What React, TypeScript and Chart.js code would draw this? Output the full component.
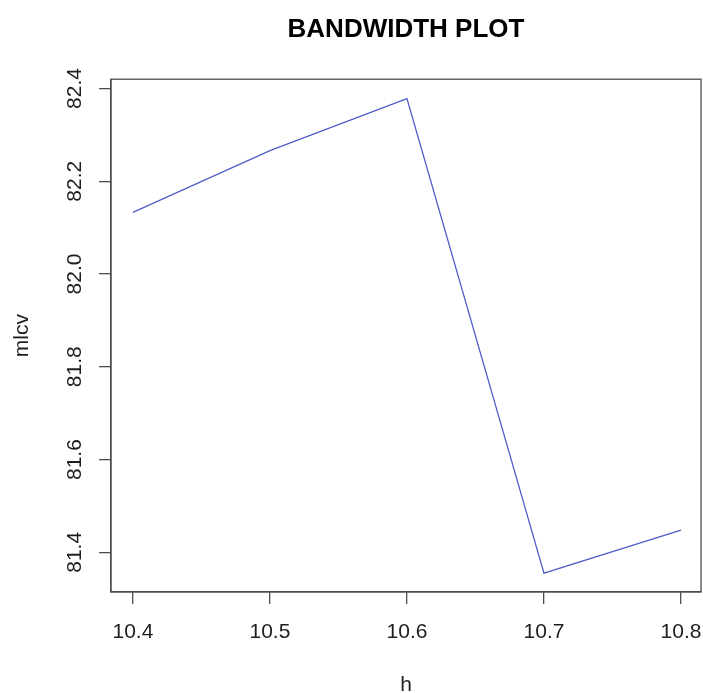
import React, { useEffect, useRef } from "react";
import { Chart, registerables } from "chart.js";

Chart.register(...registerables);

const hValues = [10.4, 10.5, 10.6, 10.7, 10.8];
const mlcvValues = [82.133, 82.266, 82.378, 81.355, 81.448];
const xTicks = [10.4, 10.5, 10.6, 10.7, 10.8];
const yTicks = [81.4, 81.6, 81.8, 82.0, 82.2, 82.4];

const W = 703;
const H = 693;
const FONT = "'Liberation Sans', Arial, sans-serif";
const AXIS_COLOR = "#4d4d4d";
const TEXT_COLOR = "#1e1e1e";

const boxPlugin = {
  id: "rBox",
  afterDraw(chart: any) {
    const { ctx, chartArea } = chart;
    ctx.save();
    ctx.strokeStyle = AXIS_COLOR;
    ctx.lineWidth = 1.3;
    ctx.strokeRect(chartArea.left, chartArea.top, chartArea.right - chartArea.left, chartArea.bottom - chartArea.top);
    ctx.restore();
  },
};

export default function App() {
  const ref = useRef<HTMLCanvasElement | null>(null);

  useEffect(() => {
    if (!ref.current) return;
    const chart = new Chart(ref.current, {
      type: "line",
      data: {
        datasets: [
          {
            label: "mlcv",
            data: hValues.map((h, i) => ({ x: h, y: mlcvValues[i] })),
            borderColor: "#4e5dc8",
            borderWidth: 1.3,
            pointRadius: 0,
            tension: 0,
            fill: false,
          },
        ],
      },
      options: {
        animation: false,
        responsive: false,
        devicePixelRatio: 1,
        layout: { padding: { left: 0, right: 2, top: 0, bottom: 0 } },
        plugins: {
          legend: { display: false },
          tooltip: { enabled: false },
          title: {
            display: true,
            fullSize: false,
            text: "BANDWIDTH PLOT",
            color: "#000",
            font: { family: FONT, size: 26, weight: "bold" },
            padding: { top: 14, bottom: 34 },
          },
        },
        scales: {
          x: {
            type: "linear",
            position: "bottom",
            min: 10.384,
            max: 10.8146,
            afterBuildTicks: (s: any) => {
              s.ticks = xTicks.map((v) => ({ value: v }));
            },
            afterFit: (s: any) => {
              s.height = 101;
              s.paddingLeft = 0;
              s.paddingRight = 0;
            },
            ticks: {
              autoSkip: false,
              maxRotation: 0,
              minRotation: 0,
              padding: 16,
              color: TEXT_COLOR,
              font: { family: FONT, size: 21 },
              callback: (v: any) => Number(v).toFixed(1),
            },
            grid: {
              display: true,
              drawOnChartArea: false,
              drawTicks: true,
              tickLength: 12,
              color: AXIS_COLOR,
              lineWidth: 1.3,
            },
            border: { display: true, color: AXIS_COLOR, width: 1.3 },
            title: {
              display: true,
              text: "h",
              color: TEXT_COLOR,
              font: { family: FONT, size: 21, lineHeight: 0.7 },
              padding: { top: 0, bottom: 0 },
            },
          },
          y: {
            type: "linear",
            position: "left",
            min: 81.3145,
            max: 82.42,
            afterBuildTicks: (s: any) => {
              s.ticks = yTicks.map((v) => ({ value: v }));
            },
            afterFit: (s: any) => {
              s.width = 111;
              s.paddingTop = 0;
              s.paddingBottom = 0;
            },
            ticks: {
              autoSkip: false,
              minRotation: 90,
              maxRotation: 90,
              crossAlign: "center",
              padding: 3,
              color: TEXT_COLOR,
              font: { family: FONT, size: 21 },
              callback: (v: any) => Number(v).toFixed(1),
            },
            grid: {
              display: true,
              drawOnChartArea: false,
              drawTicks: true,
              tickLength: 12,
              color: AXIS_COLOR,
              lineWidth: 1.3,
            },
            border: { display: true, color: AXIS_COLOR, width: 1.3 },
            title: {
              display: true,
              text: "mlcv",
              color: TEXT_COLOR,
              font: { family: FONT, size: 21 },
              padding: { top: 10, bottom: 0 },
            },
          },
        },
      },
      plugins: [boxPlugin],
    } as any);
    return () => chart.destroy();
  }, []);

  return (
    <div style={{ position: "fixed", left: 0, top: 0, width: W, height: H, background: "#fff" }}>
      <canvas ref={ref} width={W} height={H} style={{ width: W, height: H, display: "block" }} />
    </div>
  );
}
